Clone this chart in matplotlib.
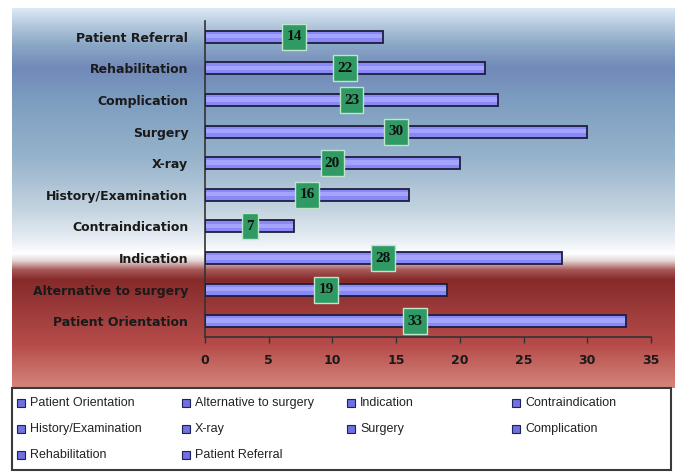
import numpy as np
import matplotlib
matplotlib.use("Agg")
import matplotlib.pyplot as plt
from matplotlib.patches import Rectangle
from matplotlib.path import Path
from matplotlib.colors import to_rgb

# Categories from bottom to top, with their counts
categories = ["Patient Orientation", "Alternative to surgery", "Indication",
              "Contraindication", "History/Examination", "X-ray", "Surgery",
              "Complication", "Rehabilitation", "Patient Referral"]
counts = [33, 19, 28, 7, 16, 20, 30, 23, 22, 14]
x_ticks = [0, 5, 10, 15, 20, 25, 30, 35]

W, H = 677, 472
fig = plt.figure(figsize=(W / 100, H / 100), dpi=100)
fig.patch.set_facecolor("white")


def fx(x):
    return x / W


def fy(y):
    return 1 - y / H


def tall_box(x0, y0, width, height, mutation_size):
    """Rectangular label box with more room above and below than at the sides."""
    px = 0.28 * mutation_size
    py = 0.42 * mutation_size
    x1, y1 = x0 - px, y0 - py
    x2, y2 = x0 + width + px, y0 + height + py
    return Path([(x1, y1), (x2, y1), (x2, y2), (x1, y2), (x1, y1)], closed=True)


# Chart-area background: blue sky fading to white, then a dark red band
stops = [
    (8, "#dde9f5"), (25, "#b4c8dc"), (45, "#8aa6c6"), (68, "#7189b9"),
    (100, "#7d9dc0"), (160, "#98b4cc"), (210, "#c4d4e0"), (240, "#e8eef4"),
    (254, "#ffffff"), (261, "#e4d4d4"), (270, "#a85858"), (280, "#862a2a"),
    (320, "#a44040"), (345, "#b64c4a"), (388, "#d4857c"),
]
rows = np.arange(8, 389)
sy = [s[0] for s in stops]
sc = np.array([to_rgb(s[1]) for s in stops])
grad = np.stack([np.interp(rows, sy, sc[:, k]) for k in range(3)], axis=-1)[:, None, :]
bg = fig.add_axes([fx(12), fy(388), fx(675) - fx(12), fy(8) - fy(388)])
bg.imshow(grad, aspect="auto", interpolation="bilinear")
bg.axis("off")

# Main bar axes
ax = fig.add_axes([fx(205), fy(337), fx(651) - fx(205), fy(21) - fy(337)])
ax.set_facecolor("none")
pos = np.arange(len(categories))
bar_h = 0.38
ax.barh(pos, counts, height=bar_h, color="#8888f6", linewidth=0, zorder=2)
ax.barh(pos + 0.02, counts, height=0.14, color="#a4a4ff", linewidth=0, zorder=2.5)
ax.barh(pos, counts, height=bar_h, fill=False, edgecolor="#1e1e3e",
        linewidth=1.3, zorder=3)

for i, v in enumerate(counts):
    ax.text(v / 2, i, str(v), ha="center", va="center", fontsize=11,
            fontweight="bold", family="Liberation Serif", color="#111111",
            zorder=5,
            bbox=dict(boxstyle=tall_box, fc="#2f9a64", ec="#c0e4cc", lw=1))

ax.set_xlim(0, 35)
ax.set_ylim(-0.5, len(categories) - 0.5)
ax.set_yticks(pos, categories, fontsize=9, fontweight="bold",
              family="DejaVu Sans", color="#1a1a1a")
ax.set_xticks(x_ticks, [str(t) for t in x_ticks], fontsize=9,
              fontweight="bold", family="DejaVu Sans", color="#1a1a1a")
ax.tick_params(axis="y", length=0, pad=12)
ax.tick_params(axis="x", length=4, width=1, direction="out", pad=8,
               color="#333333")
for side in ("top", "right"):
    ax.spines[side].set_visible(False)
for side in ("left", "bottom"):
    ax.spines[side].set_color("#333333")
    ax.spines[side].set_linewidth(1.2)

# Legend box laid out in four evenly spaced columns, row by row
fig.patches.append(Rectangle((fx(12), fy(470)), fx(671) - fx(12), fy(388) - fy(470),
                             transform=fig.transFigure, fc="white",
                             ec="#3a3a3a", lw=1.5, zorder=1))
for k, name in enumerate(categories):
    r, c = divmod(k, 4)
    x0 = 17 + 165 * c
    y0 = 403 + 26 * r
    fig.patches.append(Rectangle((fx(x0), fy(y0 + 4)), 8 / W, 8 / H,
                                 transform=fig.transFigure, fc="#7070e0",
                                 ec="#20205a", lw=0.8, zorder=2))
    fig.text(fx(x0 + 13), fy(y0), name, ha="left", va="center", fontsize=9,
             family="Liberation Sans", color="#222222", zorder=3)

fig.savefig("out.png", dpi=100)
